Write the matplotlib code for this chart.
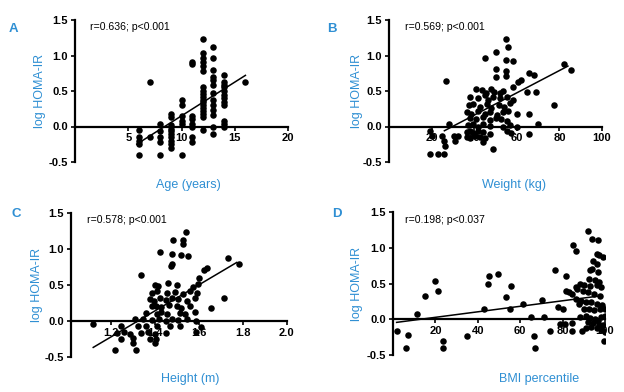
import matplotlib
matplotlib.use("Agg")
import matplotlib.pyplot as plt
from matplotlib import font_manager

# ---------------- data ----------------
age_years = ([6]*5 + [7]*2 + [8]*5 + [9]*10 + [10]*6 + [11]*8 + [12]*18 + [13]*13 + [14]*12 + [16])
age_homa = [-0.05, -0.15, -0.2, -0.25, -0.4,
            0.63, -0.15,
            0.03, -0.06, -0.15, -0.22, -0.4,
            0.18, 0.13, 0.02, -0.03, -0.07, -0.11, -0.15, -0.2, -0.25, -0.3,
            0.37, 0.3, 0.15, 0.08, 0.03, -0.4,
            0.91, 0.88, 0.15, 0.1, 0.04, 0.0, -0.15, -0.22,
            1.23, 1.04, 0.97, 0.91, 0.85, 0.78, 0.55, 0.5, 0.46, 0.42, 0.38, 0.34, 0.3, 0.26, 0.22, 0.18, 0.14, -0.05,
            1.12, 0.96, 0.8, 0.7, 0.65, 0.58, 0.47, 0.38, 0.3, 0.23, 0.16, 0.0, -0.1,
            0.72, 0.62, 0.58, 0.55, 0.5, 0.45, 0.4, 0.35, 0.3, 0.08, 0.04, -0.01,
            0.62]

weight_kg = [54.9, 56, 50.2, 45.1, 54.9, 58, 50.2, 54.9, 54.9, 50.2, 82.2, 85.3, 26.8, 65.9, 68, 61.9, 60.7, 58,
             64.9, 69, 77.4, 65.9, 70.1, 65.9, 49,
             19.4, 20.2, 24.9, 25.7, 26.2, 28, 30.4, 32.3, 31.2, 19.4, 23.0, 26.0,
             40.7, 43.5, 45.5, 47.7, 49.5, 52.1, 53.7,
             38, 41.9, 45, 46.5, 48.9, 52.1, 55.2, 58.4,
             37.5, 39.6, 42.5, 45.8, 47.8, 51.5, 54, 56.8,
             36.5, 38.5, 41.9, 45, 47.4, 50.5, 53.5, 56, 60,
             38, 41, 44.3, 47.4, 50, 52.5, 55.5,
             37, 39.6, 41.9, 44.3, 47.4, 53.7, 56.8, 59.9,
             36.5, 38, 39.6, 41.9, 44.3, 47.4, 55.2, 57.5,
             36.5, 38, 40.5, 42.5, 45, 44.3]
weight_homa = [1.23, 1.12, 1.05, 0.96, 0.94, 0.92, 0.81, 0.78, 0.71, 0.70, 0.88, 0.80, 0.64, 0.76, 0.73, 0.65, 0.62, 0.56,
               0.48, 0.49, 0.30, 0.18, 0.04, -0.10, -0.31,
               -0.06, -0.14, -0.14, -0.21, -0.28, 0.035, -0.14, -0.14, -0.21, -0.39, -0.39, -0.39,
               0.53, 0.51, 0.47, 0.53, 0.49, 0.47, 0.50,
               0.42, 0.40, 0.44, 0.38, 0.42, 0.40, 0.42, 0.38,
               0.30, 0.32, 0.28, 0.31, 0.26, 0.30, 0.28, 0.33,
               0.20, 0.18, 0.22, 0.18, 0.21, 0.16, 0.20, 0.22, 0.17,
               0.12, 0.10, 0.13, 0.09, 0.12, 0.10, 0.08,
               0.02, 0.03, 0.00, 0.04, 0.01, -0.01, 0.02, 0.00,
               -0.08, -0.06, -0.09, -0.07, -0.08, -0.10, -0.07, -0.09,
               -0.15, -0.16, -0.14, -0.15, -0.16, -0.22]

height_m = [1.542, 1.53, 1.53, 1.482, 1.424, 1.48, 1.52, 1.55, 1.48, 1.475, 1.337, 1.735, 1.785, 1.637, 1.622, 1.60,
            1.715, 1.656, 1.121, 1.22, 1.316, 1.59, 1.61,
            1.401, 1.416, 1.461, 1.50, 1.575, 1.598,
            1.386, 1.409, 1.457, 1.492, 1.53, 1.56, 1.593,
            1.378, 1.396, 1.424, 1.451, 1.477, 1.507, 1.548, 1.583,
            1.386, 1.405, 1.431, 1.466, 1.50, 1.522, 1.56,
            1.363, 1.409, 1.431, 1.457, 1.515, 1.537, 1.583,
            1.31, 1.348, 1.386, 1.42, 1.451, 1.477, 1.507, 1.545, 1.59,
            1.249, 1.325, 1.363, 1.409, 1.469, 1.515,
            1.23, 1.26, 1.287, 1.34, 1.37, 1.40, 1.451,
            1.249, 1.30, 1.378, 1.405,
            1.30, 1.40]
height_homa = [1.23, 1.12, 1.07, 1.12, 0.96, 0.92, 0.91, 0.90, 0.79, 0.76, 0.63, 0.87, 0.79, 0.73, 0.70, 0.60,
               0.31, 0.18, -0.05, -0.40, -0.40, -0.16, -0.09,
               0.50, 0.48, 0.52, 0.49, 0.47, 0.51,
               0.39, 0.41, 0.38, 0.40, 0.37, 0.41, 0.39,
               0.30, 0.28, 0.31, 0.29, 0.32, 0.30, 0.28, 0.31,
               0.20, 0.21, 0.19, 0.22, 0.20, 0.18, 0.21,
               0.11, 0.10, 0.12, 0.09, 0.11, 0.10, 0.12,
               0.02, 0.03, 0.01, 0.02, 0.00, 0.03, 0.01, 0.02, 0.00,
               -0.075, -0.07, -0.08, -0.07, -0.08, -0.075,
               -0.17, -0.16, -0.18, -0.17, -0.16, -0.18, -0.17,
               -0.25, -0.24, -0.26, -0.25,
               -0.31, -0.31]

bmi_pct = [1.7, 6.1, 7.2, 11.5, 15.1, 19.8, 21.4, 23.4, 23.4, 34.7, 43.1, 44.9, 45.3, 49.7, 53.3, 55.5, 55.2,
           61.5, 64.9, 66.5, 66.8, 71.2, 70.4, 74, 76.4, 78, 80.3, 81.4, 81.4, 78.8, 81.1, 84.3, 85.1, 86.2,
           84.3, 84.3, 86.2, 89, 83,
           92.1, 93.7, 96.9, 96, 97.3, 99.2, 94.5, 96, 93.7, 92.9, 96.9, 92.5, 95.5, 97, 88, 90, 93, 96, 98,
           87, 89.5, 92, 95, 97.5, 86.5, 88.5, 91, 93.5, 96, 98.5, 87.5, 90, 92.5, 95, 97.5, 100,
           88, 91, 93, 95.5, 98, 100, 92, 94.5, 96.5, 99, 93.5, 96, 98.5, 100, 99.5, 97, 91]
bmi_homa = [-0.16, -0.40, -0.22, 0.07, 0.33, 0.54, 0.40, -0.30, -0.40, -0.23, 0.14, 0.49, 0.61, 0.63, 0.32, 0.47, 0.14,
            0.22, 0.03, -0.23, -0.40, 0.03, 0.27, -0.16, 0.69, 0.18, 0.14, 0.61, 0.40, -0.06, -0.06, 0.36, 1.04, 0.96,
            -0.05, -0.16, 0.46, -0.16, 0.38,
            1.23, 1.12, 1.11, 0.92, 0.90, 0.87, 0.81, 0.78, 0.71, 0.69, 0.66, 0.57, 0.55, 0.52, 0.50, 0.48, 0.47, 0.48, 0.45,
            0.42, 0.40, 0.38, 0.36, 0.33, 0.28, 0.26, 0.25, 0.24, 0.22, 0.20, 0.22, 0.15, 0.14, 0.13, 0.14, 0.14,
            0.04, 0.05, 0.02, 0.00, 0.03, 0.05, -0.04, -0.05, -0.02, -0.08, -0.10, -0.12, -0.15, -0.18, -0.30, -0.08, -0.12]

# regression lines: (slope, intercept, x_start, x_end)
fit_age = (0.095, -0.80, 5.8, 16.0)
fit_weight = (0.0157, -0.468, 26.0, 84.0)
fit_height = (1.81, -2.40, 1.121, 1.773)
fit_bmi = (0.00385, -0.047, 1.7, 97.5)

panel_letters = ["A", "B", "C", "D"]
x_labels = ["Age (years)", "Weight (kg)", "Height (m)", "BMI percentile"]
stat_texts = ["r=0.636; p<0.001", "r=0.569; p<0.001", "r=0.578; p<0.001", "r=0.198; p<0.037"]
x_ticks = [[5, 10, 15, 20], [20, 40, 60, 80, 100], [1.2, 1.4, 1.6, 1.8, 2.0], [20, 40, 60, 80, 100]]
x_ticklabels = [["5", "10", "15", "20"], ["20", "40", "60", "80", "100"],
                ["1.2", "1.4", "1.6", "1.8", "2.0"], ["20", "40", "60", "80", "100"]]
x_limits = [(0, 20), (0, 100), (1.02, 2.0), (0, 100)]
y_ticks = [-0.5, 0.0, 0.5, 1.0, 1.5]
y_ticklabels = ["-0.5", "0.0", "0.5", "1.0", "1.5"]

# ---------------- style ----------------
avail = {f.name for f in font_manager.fontManager.ttflist}
narrow = "Liberation Sans Narrow" if "Liberation Sans Narrow" in avail else "Liberation Sans"
BLUE = "#2f8fd3"

W, H = 624, 392
fig = plt.figure(figsize=(W / 100, H / 100), dpi=100)

def fx(px):
    return px / W

def fy(py):
    return 1 - py / H

# axes boxes in pixels: left, right, top, bottom
boxes = [(75, 288, 20, 162), (389, 602, 20, 162), (71, 286.7, 212.7, 356.7), (393, 605, 212, 355.3)]
letter_pos = [(9, 29), (327, 29), (12, 214), (332, 214)]
xlabel_pos = [(188, 185), (514, 185), (190, 379), (539, 379)]
ylabel_x = [40, 357, 37, 357]
stat_pos = [(90, 27), (405, 27), (87, 220), (405, 220)]

datasets = [(age_years, age_homa, fit_age), (weight_kg, weight_homa, fit_weight),
            (height_m, height_homa, fit_height), (bmi_pct, bmi_homa, fit_bmi)]

for i in range(4):
    l, r, t, b = boxes[i]
    ax = fig.add_axes([fx(l), fy(b), fx(r - l), (b - t) / H])
    xs, ys, fit = datasets[i]
    ax.scatter(xs, ys, s=22, color="black", zorder=3, linewidths=0)
    slope, icpt, x0, x1 = fit
    ax.plot([x0, x1], [slope * x0 + icpt, slope * x1 + icpt], color="black", lw=1.1, zorder=4)
    ax.set_xlim(*x_limits[i])
    ax.set_ylim(-0.5, 1.5)
    for s in ["top", "right"]:
        ax.spines[s].set_visible(False)
    ax.spines["bottom"].set_position(("data", 0))
    ax.spines["left"].set_linewidth(1.6)
    ax.spines["bottom"].set_linewidth(1.6)
    ax.set_yticks(y_ticks)
    ax.set_yticklabels(y_ticklabels)
    ax.set_xticks(x_ticks[i])
    ax.set_xticklabels(x_ticklabels[i])
    ax.tick_params(axis="both", direction="out", length=3, width=1.2, pad=2,
                   labelsize=8)
    for lab in ax.get_xticklabels() + ax.get_yticklabels():
        lab.set_fontfamily(["Liberation Sans", "DejaVu Sans"])
        lab.set_fontweight("bold")
    ax.patch.set_alpha(0)

    fig.text(fx(letter_pos[i][0]), fy(letter_pos[i][1]), panel_letters[i], color=BLUE,
             fontsize=9.5, fontweight="bold", family=["Liberation Sans", "DejaVu Sans"],
             ha="left", va="center")
    fig.text(fx(xlabel_pos[i][0]), fy(xlabel_pos[i][1]), x_labels[i], color=BLUE,
             fontsize=9, family=[narrow, "DejaVu Sans"], ha="center", va="center")
    fig.text(fx(ylabel_x[i]), fy((t + b) / 2), "log HOMA-IR", color=BLUE, rotation=90,
             fontsize=9, family=[narrow, "DejaVu Sans"], ha="center", va="center")
    fig.text(fx(stat_pos[i][0]), fy(stat_pos[i][1]), stat_texts[i], color="black",
             fontsize=7.6, family=[narrow, "DejaVu Sans"], ha="left", va="center")

fig.savefig("out.png", dpi=100)
